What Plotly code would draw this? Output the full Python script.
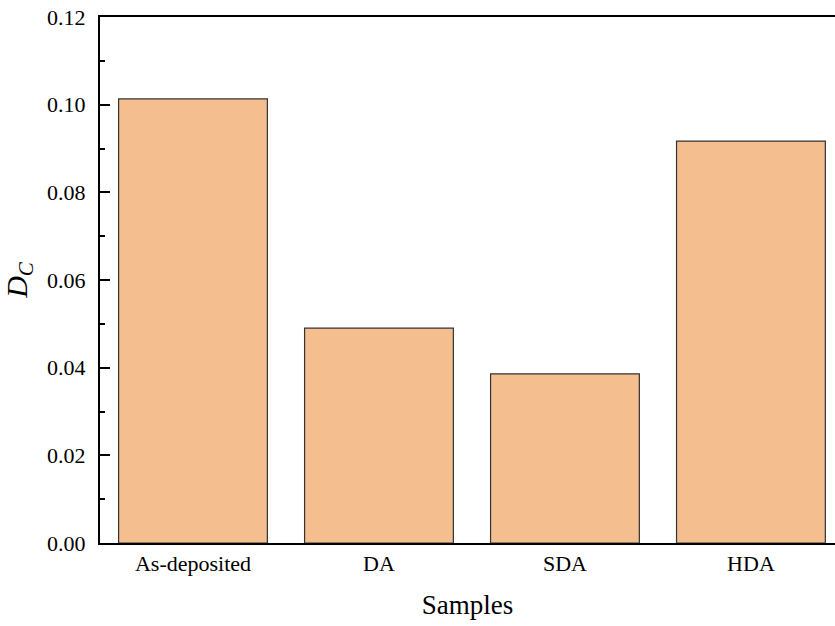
import plotly.graph_objects as go

categories = ["As-deposited", "DA", "SDA", "HDA"]
dc_values = [0.1013, 0.0490, 0.0386, 0.0917]
y_ticks = [0.00, 0.02, 0.04, 0.06, 0.08, 0.10, 0.12]
y_tick_labels = ["0.00", "0.02", "0.04", "0.06", "0.08", "0.10", "0.12"]

font_family = "Liberation Serif, Times New Roman, serif"

fig = go.Figure(
    go.Bar(
        x=categories,
        y=dc_values,
        marker=dict(color="#F5BE8F", line=dict(color="#333333", width=1.2)),
    )
)

fig.update_layout(
    width=835,
    height=626,
    margin=dict(l=100, r=0, t=17, b=83),
    paper_bgcolor="white",
    plot_bgcolor="white",
    bargap=0.2,
    showlegend=False,
    font=dict(family=font_family, color="black"),
)

fig.update_xaxes(
    range=[-0.5, 3.452],
    automargin=False,
    showline=True,
    linecolor="black",
    linewidth=2,
    mirror=True,
    ticks="",
    showgrid=False,
    tickfont=dict(size=22, family=font_family),
    title=dict(text="Samples", font=dict(size=27, family=font_family), standoff=20),
)

fig.update_yaxes(
    range=[0, 0.12],
    automargin=False,
    tickvals=y_ticks,
    ticktext=y_tick_labels,
    ticklabeloverflow="allow",
    showline=True,
    linecolor="black",
    linewidth=2,
    ticks="inside",
    ticklen=10,
    tickwidth=2,
    tickcolor="black",
    minor=dict(dtick=0.01, ticks="inside", ticklen=5, tickwidth=2, tickcolor="black"),
    showgrid=False,
    zeroline=False,
    tickfont=dict(size=22, family=font_family),
    ticklabelstandoff=8,
    title=dict(text="<i>D</i><sub><i>C</i></sub>", font=dict(size=30, family=font_family), standoff=12),
)

fig.write_html(
    "out.html",
    config={"displayModeBar": False},
    post_script="document.body.style.margin='0';document.body.style.padding='0';",
)
